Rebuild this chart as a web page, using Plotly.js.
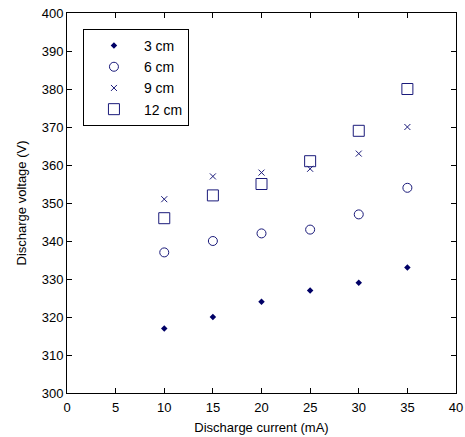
<!DOCTYPE html>
<html>
<head>
<meta charset="utf-8">
<script src="https://cdn.plot.ly/plotly-3.0.1.min.js"></script>
<style>html,body{margin:0;padding:0;background:#fff;}#chart{width:465px;height:437px;}</style>
</head>
<body>
<div id="chart"></div>
<script>
var current = [10, 15, 20, 25, 30, 35];
var v3cm = [317, 320, 324, 327, 329, 333];
var v6cm = [337, 340, 342, 343, 347, 354];
var v9cm = [351, 357, 358, 359, 363, 370];
var v12cm = [346, 352, 355, 361, 369, 380];
var seriesNames = ['3 cm', '6 cm', '9 cm', '12 cm'];
var navy = '#1a1a7a';

var traces = [
  {x: current, y: v3cm, name: seriesNames[0], mode: 'markers', type: 'scatter',
   marker: {symbol: 'diamond', size: 5, color: '#000066'}},
  {x: current, y: v6cm, name: seriesNames[1], mode: 'markers', type: 'scatter',
   marker: {symbol: 'circle-open', size: 9, color: navy, line: {width: 1, color: navy}}},
  {x: current, y: v9cm, name: seriesNames[2], mode: 'markers', type: 'scatter',
   marker: {symbol: 'x-thin-open', size: 6, color: navy, line: {width: 1, color: navy}}},
  {x: current, y: v12cm, name: seriesNames[3], mode: 'markers', type: 'scatter',
   marker: {symbol: 'square-open', size: 11, color: navy, line: {width: 1, color: navy}}}
];

var axisCommon = {
  showgrid: false, zeroline: false, showline: true, linecolor: '#000', linewidth: 1,
  mirror: 'allticks', ticks: 'inside', ticklen: 5, tickcolor: '#000',
  tickfont: {family: 'Liberation Sans, Arial, sans-serif', size: 13, color: '#000'}
};

var layout = {
  width: 465, height: 437,
  margin: {l: 67, r: 9, t: 13, b: 44},
  paper_bgcolor: '#fff', plot_bgcolor: '#fff',
  font: {family: 'Liberation Sans, Arial, sans-serif', size: 13, color: '#000'},
  showlegend: true,
  legend: {x: 0.041, y: 0.958, xanchor: 'left', yanchor: 'top',
    bordercolor: '#000', borderwidth: 1, bgcolor: '#fff',
    traceorder: 'normal',
    font: {size: 14, color: '#000'}, itemwidth: 50},
  xaxis: Object.assign({}, axisCommon, {range: [0, 40], dtick: 5, tick0: 0,
    ticklabelstandoff: 2,
    title: {text: 'Discharge current (mA)', standoff: 9, font: {size: 13}}}),
  yaxis: Object.assign({}, axisCommon, {range: [300, 400], dtick: 10, tick0: 300,
    title: {text: 'Discharge voltage (V)', standoff: 12, font: {size: 13}}})
};

Plotly.newPlot('chart', traces, layout, {displayModeBar: false, staticPlot: true});
</script>
</body>
</html>
